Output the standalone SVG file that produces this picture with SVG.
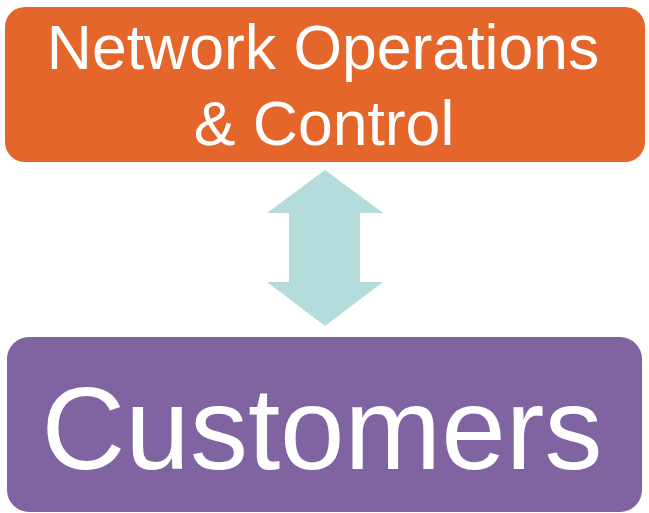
<svg xmlns="http://www.w3.org/2000/svg" width="649" height="513" viewBox="0 0 649 513">
<style>
.t{font-family:"Liberation Sans",Arial,sans-serif;fill:#ffffff;text-anchor:middle}
</style>
<rect width="649" height="513" fill="#ffffff"/>
<g id="network-ops">
<rect x="5" y="7" width="640" height="155" rx="20" fill="#E5662A"/>
<text class="t" x="323" y="69" font-size="62.5">Network Operations</text>
<text class="t" x="324" y="145" font-size="62.5">&amp; Control</text>
</g>
<g id="connectors">
<polygon points="325,170 383,213 360,213 360,282 383,282 325,326 267,282 289,282 289,213 267,213" fill="#B4DCDB"/>
</g>
<g id="customers">
<rect x="7" y="337" width="635" height="175" rx="22" fill="#8064A2"/>
<text class="t" x="322" y="469" font-size="116">Customers</text>
</g>
</svg>
